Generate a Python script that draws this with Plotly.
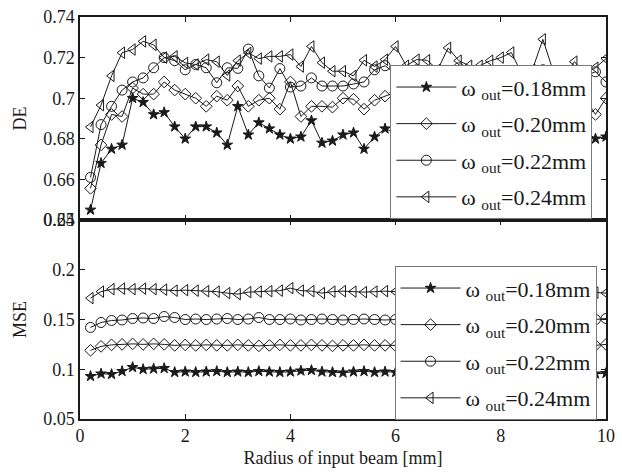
import plotly.graph_objects as go

# ---------------- data ----------------
radius = [0.2, 0.4, 0.6, 0.8, 1.0, 1.2, 1.4, 1.6, 1.8, 2.0,
          2.2, 2.4, 2.6, 2.8, 3.0, 3.2, 3.4, 3.6, 3.8, 4.0,
          4.2, 4.4, 4.6, 4.8, 5.0, 5.2, 5.4, 5.6, 5.8, 6.0,
          6.2, 6.4, 6.6, 6.8, 7.0, 7.2, 7.4, 7.6, 7.8, 8.0,
          8.2, 8.4, 8.6, 8.8, 9.0, 9.2, 9.4, 9.6, 9.8, 10.0]

series_names = ["ω <sub>out</sub>=0.18mm", "ω <sub>out</sub>=0.20mm",
                "ω <sub>out</sub>=0.22mm", "ω <sub>out</sub>=0.24mm"]

de_018 = [0.645, 0.668, 0.675, 0.677, 0.700, 0.698, 0.692, 0.693, 0.686, 0.680,
          0.686, 0.686, 0.683, 0.677, 0.696, 0.682, 0.688, 0.685, 0.682, 0.680,
          0.681, 0.689, 0.678, 0.679, 0.682, 0.683, 0.675, 0.681, 0.685, 0.683,
          0.680, 0.684, 0.679, 0.682, 0.686, 0.681, 0.678, 0.683, 0.680, 0.684,
          0.679, 0.682, 0.685, 0.680, 0.683, 0.678, 0.682, 0.684, 0.680, 0.681]
de_020 = [0.6556, 0.677, 0.692, 0.691, 0.705, 0.702, 0.702, 0.708, 0.704, 0.702,
          0.700, 0.696, 0.701, 0.699, 0.706, 0.696, 0.699, 0.700, 0.6946, 0.708,
          0.691, 0.696, 0.696, 0.6956, 0.700, 0.6995, 0.6946, 0.699, 0.701, 0.703,
          0.700, 0.705, 0.701, 0.698, 0.703, 0.700, 0.706, 0.702, 0.699, 0.704,
          0.701, 0.697, 0.703, 0.706, 0.700, 0.698, 0.703, 0.700, 0.692, 0.700]
de_022 = [0.661, 0.687, 0.696, 0.704, 0.708, 0.710, 0.715, 0.720, 0.7185, 0.714,
          0.7166, 0.715, 0.7076, 0.715, 0.7147, 0.7242, 0.711, 0.705, 0.7146, 0.7055,
          0.706, 0.710, 0.706, 0.706, 0.706, 0.707, 0.708, 0.714, 0.716, 0.712,
          0.709, 0.714, 0.710, 0.707, 0.712, 0.715, 0.709, 0.711, 0.708, 0.713,
          0.710, 0.706, 0.711, 0.714, 0.709, 0.712, 0.708, 0.711, 0.713, 0.708]
de_024 = [0.6858, 0.6966, 0.711, 0.7224, 0.724, 0.728, 0.7263, 0.720, 0.7206, 0.7174,
          0.7166, 0.719, 0.718, 0.7112, 0.7185, 0.7223, 0.7195, 0.7206, 0.7206, 0.7215,
          0.7156, 0.7255, 0.7175, 0.7133, 0.7133, 0.711, 0.7187, 0.7156, 0.719, 0.7255,
          0.716, 0.719, 0.7187, 0.714, 0.7248, 0.7185, 0.716, 0.716, 0.7185, 0.720,
          0.7225, 0.712, 0.714, 0.729, 0.713, 0.711, 0.718, 0.712, 0.715, 0.7195]

mse_018 = [0.0930, 0.0955, 0.0950, 0.0980, 0.1020, 0.1000, 0.1005, 0.1010, 0.0970, 0.0975,
           0.0970, 0.0975, 0.0980, 0.0970, 0.0975, 0.0970, 0.0980, 0.0975, 0.0970, 0.0975,
           0.0985, 0.0990, 0.0975, 0.0970, 0.0965, 0.0975, 0.0980, 0.0970, 0.0975, 0.0970,
           0.0975, 0.0980, 0.0970, 0.0965, 0.0975, 0.0980, 0.0975, 0.0970, 0.0975, 0.0980,
           0.0975, 0.0970, 0.0965, 0.0975, 0.0980, 0.0970, 0.0975, 0.0970, 0.0955, 0.0960]
mse_020 = [0.1190, 0.1230, 0.1245, 0.1250, 0.1255, 0.1250, 0.1255, 0.1250, 0.1240, 0.1245,
           0.1240, 0.1245, 0.1240, 0.1240, 0.1245, 0.1240, 0.1235, 0.1240, 0.1245, 0.1240,
           0.1240, 0.1245, 0.1240, 0.1235, 0.1240, 0.1240, 0.1245, 0.1240, 0.1240, 0.1235,
           0.1240, 0.1245, 0.1240, 0.1235, 0.1240, 0.1245, 0.1240, 0.1240, 0.1235, 0.1240,
           0.1245, 0.1240, 0.1235, 0.1240, 0.1245, 0.1240, 0.1240, 0.1235, 0.1240, 0.1250]
mse_022 = [0.1420, 0.1470, 0.1490, 0.1495, 0.1510, 0.1515, 0.1510, 0.1530, 0.1520, 0.1500,
           0.1505, 0.1500, 0.1505, 0.1510, 0.1500, 0.1505, 0.1520, 0.1500, 0.1500, 0.1505,
           0.1495, 0.1500, 0.1505, 0.1500, 0.1495, 0.1500, 0.1505, 0.1500, 0.1495, 0.1500,
           0.1505, 0.1500, 0.1495, 0.1500, 0.1505, 0.1500, 0.1500, 0.1495, 0.1500, 0.1505,
           0.1500, 0.1495, 0.1500, 0.1505, 0.1500, 0.1495, 0.1500, 0.1505, 0.1500, 0.1510]
mse_024 = [0.1715, 0.1780, 0.1805, 0.1810, 0.1805, 0.1810, 0.1805, 0.1800, 0.1790, 0.1795,
           0.1790, 0.1785, 0.1780, 0.1765, 0.1755, 0.1775, 0.1780, 0.1785, 0.1790, 0.1815,
           0.1790, 0.1785, 0.1765, 0.1780, 0.1785, 0.1780, 0.1775, 0.1780, 0.1785, 0.1780,
           0.1775, 0.1780, 0.1785, 0.1780, 0.1775, 0.1780, 0.1785, 0.1780, 0.1775, 0.1780,
           0.1785, 0.1780, 0.1775, 0.1780, 0.1785, 0.1780, 0.1775, 0.1780, 0.1770, 0.1765]

de_series = [de_018, de_020, de_022, de_024]
mse_series = [mse_018, mse_020, mse_022, mse_024]

x_ticks = [0, 2, 4, 6, 8, 10]
de_ticks = [0.64, 0.66, 0.68, 0.70, 0.72, 0.74]
de_ticktext = ["0.64", "0.66", "0.68", "0.7", "0.72", "0.74"]
mse_ticks = [0.05, 0.10, 0.15, 0.20, 0.25]
mse_ticktext = ["0.05", "0.1", "0.15", "0.2", "0.25"]

# ---------------- styles ----------------
INK = "#1a1a1a"
FONT = "Liberation Serif"
symbols = ["star", "diamond-open", "circle-open", "triangle-left-open"]
sizes = [8, 9, 10, 10]

fig = go.Figure()

for i in range(4):
    fig.add_trace(go.Scatter(
        x=radius, y=de_series[i], mode="lines+markers", name=series_names[i],
        xaxis="x", yaxis="y", legend="legend", legendgroup="a%d" % i,
        line=dict(color=INK, width=1),
        marker=dict(symbol=symbols[i], size=sizes[i], color=INK,
                    line=dict(color=INK, width=1)),
    ))
for i in range(4):
    fig.add_trace(go.Scatter(
        x=radius, y=mse_series[i], mode="lines+markers", name=series_names[i],
        xaxis="x2", yaxis="y2", legend="legend2", legendgroup="b%d" % i,
        line=dict(color=INK, width=1),
        marker=dict(symbol=symbols[i], size=sizes[i], color=INK,
                    line=dict(color=INK, width=1)),
    ))

axis_common = dict(showline=True, linecolor=INK, linewidth=1.5, mirror="ticks",
                   ticks="inside", ticklen=5, tickcolor=INK, tickwidth=1,
                   showgrid=False, zeroline=False,
                   tickfont=dict(family=FONT, size=18, color=INK))

split = 0.495
legend_common = dict(bgcolor="white", bordercolor="#777", borderwidth=1,
                     font=dict(family=FONT, size=22, color=INK),
                     xanchor="left", yanchor="top", itemwidth=60,
                     tracegroupgap=5)

fig.update_layout(
    width=622, height=472,
    margin=dict(l=80, r=7, t=17, b=49),
    paper_bgcolor="white", plot_bgcolor="white",
    showlegend=True,
    xaxis=dict(axis_common, domain=[0, 1], range=[0, 10], anchor="y",
               tickvals=x_ticks, showticklabels=False),
    yaxis=dict(axis_common, domain=[split, 1], range=[0.64, 0.74], anchor="x",
               tickvals=de_ticks, ticktext=de_ticktext,
               title=dict(text="DE", font=dict(family=FONT, size=18, color=INK),
                          standoff=12)),
    xaxis2=dict(axis_common, domain=[0, 1], range=[0, 10], anchor="y2",
                tickvals=x_ticks,
                title=dict(text="Radius of input beam [mm]",
                           font=dict(family=FONT, size=18, color=INK),
                           standoff=6)),
    yaxis2=dict(axis_common, domain=[0, split], range=[0.05, 0.25], anchor="x2",
                tickvals=mse_ticks, ticktext=mse_ticktext,
                title=dict(text="MSE", font=dict(family=FONT, size=18, color=INK),
                           standoff=12)),
    legend=dict(legend_common, x=0.59, y=0.88),
    legend2=dict(legend_common, x=0.598, y=0.38),
)

fig.write_html("out.html")
